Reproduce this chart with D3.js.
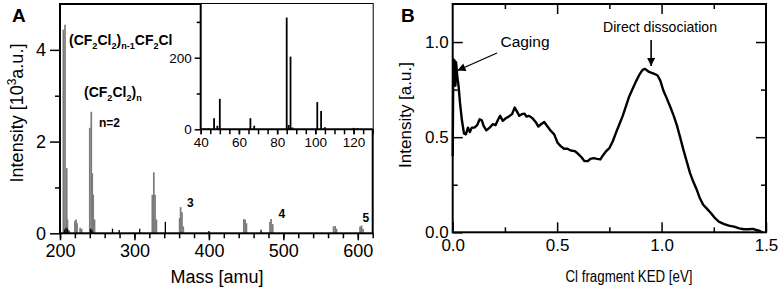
<!DOCTYPE html>
<html><head><meta charset="utf-8">
<script src="https://cdn.jsdelivr.net/npm/d3@7"></script>
<style>body{margin:0;background:#fff}svg{display:block;font-family:"Liberation Sans",Arial,sans-serif}</style>
</head><body><svg id="c" width="780" height="289"></svg>
<script>
// Panel A: mass spectrum (grey peaks, 10^3 a.u.)
const massGrey = [204.5,206.7,209,210,220,221.5,223,227,229,240,242,243.3,244.6,246.4,324,326,327.7,329.5,360.7,362,363.8,365.6,446.9,448.7,450.4,482,483.5,485.7,567.4,569.6,571.4,603,605,607];
const intGrey  = [4.44,4.55,1.42,0.3,0.27,0.3,0.22,0.12,0.1,2.3,2.65,1.31,0.84,0.3,0.84,1.33,0.84,0.3,0.33,0.57,0.46,0.15,0.31,0.3,0.22,0.25,0.31,0.2,0.15,0.16,0.1,0.15,0.17,0.1];
// Panel A: black baseline peaks
const massBlack = [206,208,210,212,241,243,270.5,279.5,307,341.5,400,470];
const intBlack  = [0.08,0.12,0.1,0.06,0.1,0.08,0.1,0.07,0.1,0.25,0.05,0.08];
// Inset: low mass range
const massInset = [42,44,47,48.7,50,66,68,85,86,87,88,101,103,105,120,122];
const intInset  = [3,3,31,10,85,31,10,312,12,203,5,76,51,6,4,3];
const ticksAx = [200,300,400,500,600];
const ticksAy = [0,2,4];
const ticksIx = [40,60,80,100,120];
const ticksIy = [0,200];
// Panel B: Cl fragment KED distribution
const ked = [0,0.003,0.009,0.013,0.016,0.022,0.028,0.035,0.044,0.054,0.063,0.073,0.082,0.091,0.104,0.117,0.129,0.139,0.148,0.161,0.177,0.192,0.205,0.218,0.227,0.24,0.252,0.268,0.284,0.297,0.306,0.319,0.331,0.344,0.353,0.366,0.382,0.397,0.41,0.423,0.438,0.454,0.47,0.486,0.502,0.517,0.533,0.549,0.565,0.584,0.599,0.615,0.631,0.647,0.659,0.675,0.691,0.707,0.719,0.735,0.751,0.767,0.782,0.798,0.814,0.83,0.845,0.861,0.877,0.893,0.909,0.921,0.937,0.953,0.968,0.981,0.994,1.009,1.025,1.041,1.057,1.073,1.088,1.104,1.12,1.136,1.151,1.167,1.183,1.199,1.218,1.237,1.256,1.274,1.297,1.322,1.347,1.372,1.394,1.416,1.438,1.454,1.47,1.483];
const intB = [0.4,0.908,0.903,0.77,0.894,0.82,0.77,0.68,0.59,0.52,0.515,0.55,0.527,0.55,0.55,0.563,0.594,0.589,0.559,0.536,0.55,0.568,0.563,0.594,0.612,0.586,0.598,0.608,0.621,0.656,0.638,0.612,0.621,0.624,0.608,0.612,0.6,0.58,0.556,0.568,0.58,0.556,0.533,0.515,0.471,0.453,0.439,0.439,0.43,0.427,0.414,0.397,0.374,0.374,0.386,0.39,0.386,0.383,0.404,0.427,0.444,0.48,0.524,0.568,0.612,0.665,0.714,0.753,0.792,0.827,0.854,0.859,0.845,0.838,0.832,0.824,0.797,0.744,0.704,0.661,0.616,0.563,0.503,0.436,0.374,0.312,0.268,0.228,0.18,0.145,0.123,0.1,0.074,0.056,0.044,0.035,0.03,0.021,0.016,0.016,0.018,0.012,0.007,0.0];
const ticksBx = [0,0.5,1.0,1.5];
const ticksBy = [0,0.5,1.0];

const svg = d3.select("#c");
svg.append("defs").append("marker").attr("id","ah").attr("viewBox","0 0 10 10").attr("refX",10).attr("refY",5)
  .attr("markerWidth",11).attr("markerHeight",8).attr("markerUnits","userSpaceOnUse").attr("orient","auto")
  .append("path").attr("d","M0,0L10,5L0,10z").attr("fill","#000");

// ---------- Panel A ----------
const xA = d3.scaleLinear().domain([200,620]).range([60,372.7]);
const yA = d3.scaleLinear().domain([0,5]).range([233.3,4]);
const gA = svg.append("g");
gA.selectAll("line.g").data(massGrey).join("line").attr("class","g")
  .attr("x1",d=>xA(d)).attr("x2",d=>xA(d)).attr("y1",yA(0)).attr("y2",(d,i)=>yA(intGrey[i]))
  .attr("stroke","#7a7a7a").attr("stroke-width",1.7);
gA.selectAll("line.b").data(massBlack).join("line").attr("class","b")
  .attr("x1",d=>xA(d)).attr("x2",d=>xA(d)).attr("y1",yA(0)).attr("y2",(d,i)=>yA(intBlack[i]))
  .attr("stroke","#000").attr("stroke-width",1.3);

const axA = gA.append("g").attr("transform",`translate(0,${yA(0)})`)
  .call(d3.axisBottom(xA).tickValues(d3.range(200,621,20)).tickSize(5).tickFormat(""));
axA.select(".domain").remove();
const axA2 = gA.append("g").attr("transform",`translate(0,${yA(0)})`)
  .call(d3.axisBottom(xA).tickValues(ticksAx).tickSize(7).tickPadding(4).tickFormat(d3.format("d")));
axA2.select(".domain").remove();
const ayA = gA.append("g").attr("transform",`translate(${xA(200)},0)`)
  .call(d3.axisLeft(yA).tickValues([1,3]).tickSize(5).tickFormat(""));
ayA.select(".domain").remove();
const ayA2 = gA.append("g").attr("transform",`translate(${xA(200)},0)`)
  .call(d3.axisLeft(yA).tickValues(ticksAy).tickSize(10).tickPadding(4).tickFormat(d3.format("d")));
ayA2.select(".domain").remove();
gA.append("rect").attr("x",xA(200)).attr("y",yA(5)).attr("width",xA(620)-xA(200)).attr("height",yA(0)-yA(5))
  .attr("fill","none").attr("stroke","#000").attr("stroke-width",2);

// Inset
const xI = d3.scaleLinear().domain([40,130]).range([200.7,372.7]);
const yI = d3.scaleLinear().domain([0,350]).range([129.3,4]);
const gI = svg.append("g");
gI.append("rect").attr("x",xI(40)).attr("y",yI(350)).attr("width",xI(130)-xI(40)).attr("height",yI(0)-yI(350)).attr("fill","#fff");
gI.selectAll("line.i").data(massInset).join("line").attr("class","i")
  .attr("x1",d=>xI(d)).attr("x2",d=>xI(d)).attr("y1",yI(0)).attr("y2",(d,i)=>yI(intInset[i]))
  .attr("stroke","#000").attr("stroke-width",1.8);
const axI = gI.append("g").attr("transform",`translate(0,${yI(0)})`)
  .call(d3.axisBottom(xI).tickValues(d3.range(40,131,5)).tickSize(5).tickFormat(""));
axI.select(".domain").remove();
const axI2 = gI.append("g").attr("transform",`translate(0,${yI(0)})`)
  .call(d3.axisBottom(xI).tickValues(ticksIx).tickSize(5).tickPadding(3).tickFormat(d3.format("d")));
axI2.select(".domain").remove();
const ayI = gI.append("g").attr("transform",`translate(${xI(40)},0)`)
  .call(d3.axisLeft(yI).tickValues([100,300]).tickSize(4).tickFormat(""));
ayI.select(".domain").remove();
const ayI2 = gI.append("g").attr("transform",`translate(${xI(40)},0)`)
  .call(d3.axisLeft(yI).tickValues(ticksIy).tickSize(6).tickPadding(3).tickFormat(d3.format("d")));
ayI2.select(".domain").remove();
gI.append("line").attr("x1",xI(40)).attr("x2",xI(40)).attr("y1",yI(350)).attr("y2",yI(0)).attr("stroke","#000").attr("stroke-width",2);
gI.append("line").attr("x1",xI(40)).attr("x2",xI(130)).attr("y1",yI(0)).attr("y2",yI(0)).attr("stroke","#000").attr("stroke-width",2);

// ---------- Panel B ----------
const xB = d3.scaleLinear().domain([0,1.5]).range([452.7,766]);
const yB = d3.scaleLinear().domain([0,1.2]).range([232.3,4]);
const gB = svg.append("g");
function inward(axisGen, tr, vals, size, fmt, pad){
  const a = gB.append("g").attr("transform",tr).call(axisGen.tickValues(vals).tickSizeInner(-size).tickSizeOuter(0).tickPadding(pad).tickFormat(fmt));
  a.select(".domain").remove(); return a;
}
inward(d3.axisBottom(xB), `translate(0,${yB(0)})`, [0.25,0.75,1.25], 5, "", 0);
inward(d3.axisBottom(xB), `translate(0,${yB(0)})`, ticksBx, 10, d3.format(".1f"), 7);
inward(d3.axisTop(xB), `translate(0,${yB(1.2)})`, [0.25,0.75,1.25], 5, "", 0);
inward(d3.axisTop(xB), `translate(0,${yB(1.2)})`, [0.5,1.0], 10, "", 0);
inward(d3.axisLeft(yB), `translate(${xB(0)},0)`, [0.25,0.75], 5, "", 0);
inward(d3.axisLeft(yB), `translate(${xB(0)},0)`, ticksBy, 10, d3.format(".1f"), 4);
inward(d3.axisRight(yB), `translate(${xB(1.5)},0)`, [0.25,0.75], 5, "", 0);
inward(d3.axisRight(yB), `translate(${xB(1.5)},0)`, [0.5,1.0], 10, "", 0);
gB.append("rect").attr("x",xB(0)).attr("y",yB(1.2)).attr("width",xB(1.5)-xB(0)).attr("height",yB(0)-yB(1.2))
  .attr("fill","none").attr("stroke","#000").attr("stroke-width",2);
gB.append("path").datum(ked.map((k,i)=>[k,intB[i]]))
  .attr("d",d3.line().x(d=>xB(d[0])).y(d=>yB(d[1])))
  .attr("fill","none").attr("stroke","#000").attr("stroke-width",2.4).attr("stroke-linejoin","round");

// tick label fonts
svg.selectAll(".tick text").attr("fill","#000");
gA.selectAll(".tick text").attr("font-size",18).attr("font-family","Liberation Sans, Arial, sans-serif");
gI.selectAll(".tick text").attr("font-size",13.5).attr("font-family","Liberation Sans, Arial, sans-serif");
gB.selectAll(".tick text").attr("font-size",17).attr("font-family","Liberation Sans, Arial, sans-serif");
svg.selectAll(".tick line").attr("stroke","#000").attr("stroke-width",1.5);

// ---------- Texts ----------
const T = (x,y,s,o={})=>{const t=svg.append("text").attr("x",x).attr("y",y).attr("font-size",o.size||18)
  .attr("font-weight",o.bold?"bold":"normal").attr("text-anchor",o.anchor||"start"); if(o.rot) t.attr("transform",`rotate(-90,${x},${y})`); if(s) t.text(s); return t;};
T(12,22,"A",{size:19,bold:true});
T(401,22,"B",{size:19,bold:true});
// formula labels
function formula(x,y,parts,size){
  const t=T(x,y,null,{size,bold:true});
  let sub=false;
  parts.forEach(([txt,isSub])=>{
    const dy = isSub && !sub ? 4 : (!isSub && sub ? -4 : 0);
    t.append("tspan").attr("dy",dy).attr("font-size",isSub?size*0.65:size).text(txt); sub=isSub;
  });
}
formula(69,45,[["(CF",0],["2",1],["Cl",0],["2",1],[")",0],["n-1",1],["CF",0],["2",1],["Cl",0]],14);
formula(84,97,[["(CF",0],["2",1],["Cl",0],["2",1],[")",0],["n",1]],14);
T(99,127,"n=2",{size:12,bold:true});
T(187,207,"3",{size:12,bold:true});
T(278.5,218,"4",{size:12,bold:true});
T(362.5,222,"5",{size:12,bold:true});
// axis labels
T(217,283,"Mass [amu]",{size:18,anchor:"middle"});
const yl = T(23,113,null,{size:18,anchor:"middle",rot:true});
yl.append("tspan").text("Intensity [10");
yl.append("tspan").attr("dy",-7).attr("font-size",12).text("3");
yl.append("tspan").attr("dy",7).text("a.u.]");
T(629,282,"Cl fragment KED [eV]",{size:16,anchor:"middle"}).attr("textLength",127).attr("lengthAdjust","spacingAndGlyphs");
T(411,115,"Intensity [a.u.]",{size:17,anchor:"middle",rot:true});
// annotations
T(525,47,"Caging",{size:15.5,anchor:"middle"});
T(660,32,"Direct dissociation",{size:14.5,anchor:"middle"}).attr("textLength",114).attr("lengthAdjust","spacingAndGlyphs");
svg.append("line").attr("x1",497).attr("y1",53).attr("x2",457.5).attr("y2",70.5).attr("stroke","#000").attr("stroke-width",1.3).attr("marker-end","url(#ah)");
svg.append("line").attr("x1",xB(0.95)).attr("y1",40).attr("x2",xB(0.95)).attr("y2",66).attr("stroke","#000").attr("stroke-width",1.6).attr("marker-end","url(#ah)");
</script></body></html>
